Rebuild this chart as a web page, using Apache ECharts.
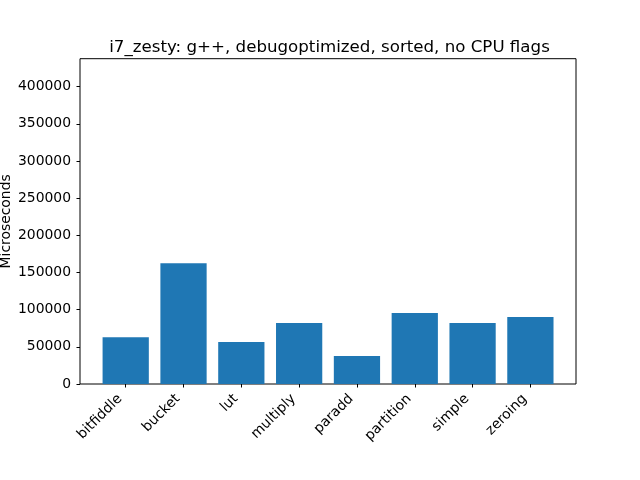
<!DOCTYPE html>
<html><head><meta charset="utf-8">
<script src="https://cdn.jsdelivr.net/npm/echarts@6/dist/echarts.min.js"></script>
<style>html,body{margin:0;padding:0;background:#fff}#c{width:640px;height:480px}</style>
</head><body><div id="c"></div>
<script>
const titleText = 'i7_zesty: g++, debugoptimized, sorted, no CPU flags';
const categories = ['bitfiddle','bucket','lut','multiply','paradd','partition','simple','zeroing'];
const values = [63000, 162500, 56500, 82000, 37500, 95500, 82000, 90000];
const yMax = 437500;
const yInterval = 50000;
const yName = 'Microseconds';

const font = 'DejaVu Sans';
const chart = echarts.init(document.getElementById('c'), null, {renderer:'canvas'});
chart.setOption({
  animation: false,
  backgroundColor: '#fff',
  title: {text: titleText, left: 324.5, textAlign: 'center', top: 34,
    textStyle: {fontFamily: font, fontSize: 16.67, fontWeight: 'normal', color: '#000'}},
  grid: [
    {left: 80, top: 58.7, width: 496, height: 325.3, show: true, borderColor: '#000', borderWidth: 1, backgroundColor: 'transparent', containLabel: false, outerBoundsMode: 'none'},
    {left: 96.8, top: 58.7, width: 462.5, height: 325.3, containLabel: false, outerBoundsMode: 'none'}
  ],
  xAxis: [
    {type: 'value', gridIndex: 0, show: false, min: 0, max: 1},
    {type: 'category', gridIndex: 1, data: categories,
      axisLine: {show: false},
      axisTick: {show: true, alignWithLabel: true, length: 3.5, lineStyle: {color: '#000', width: 1}},
      axisLabel: {rotate: 45, margin: 7, padding: [0, 8, 0, 0], fontFamily: font, fontSize: 13.9, color: '#000', interval: 0}}
  ],
  yAxis: [
    {type: 'value', gridIndex: 0, min: 0, max: yMax, interval: yInterval,
      name: yName, nameLocation: 'middle', nameGap: 67, nameRotate: 90, nameMoveOverlap: false,
      nameTextStyle: {fontFamily: font, fontSize: 13.9, color: '#000'},
      axisLine: {show: false}, splitLine: {show: false},
      axisTick: {show: true, length: 3.5, lineStyle: {color: '#000', width: 1}},
      axisLabel: {showMaxLabel: false, margin: 9, fontFamily: font, fontSize: 13.9, color: '#000',
        formatter: v => String(v)}},
    {type: 'value', gridIndex: 1, min: 0, max: yMax, show: false}
  ],
  series: [{type: 'bar', xAxisIndex: 1, yAxisIndex: 1, data: values, barWidth: '80%',
    itemStyle: {color: '#1f77b4'}}]
});
</script></body></html>
